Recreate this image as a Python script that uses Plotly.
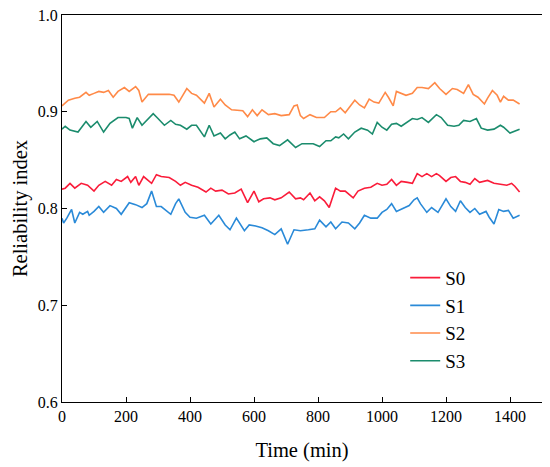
import plotly.graph_objects as go

# S0
t_s0 = [0, 10, 25, 40, 60, 80, 100, 115, 135, 155, 170, 185, 205, 215, 230, 240, 255, 280, 295, 310,
        335, 355, 370, 385, 405, 425, 450, 465, 480, 500, 520, 540, 560, 580, 600, 615, 630, 650, 665, 685,
        710, 730, 745, 755, 775, 790, 805, 820, 835, 855, 870, 885, 910, 925, 945, 965, 985, 1000, 1015, 1030,
        1045, 1060, 1080, 1095, 1110, 1125, 1140, 1155, 1170, 1180, 1200, 1215, 1230, 1245, 1260, 1275, 1290, 1305, 1330, 1350,
        1370, 1390, 1405, 1415, 1430]
r_s0 = [0.820, 0.821, 0.826, 0.821, 0.826, 0.824, 0.818, 0.824, 0.828, 0.824, 0.830, 0.828, 0.833, 0.827, 0.833, 0.824, 0.833, 0.826, 0.835, 0.833,
        0.832, 0.828, 0.824, 0.827, 0.824, 0.822, 0.817, 0.821, 0.818, 0.819, 0.815, 0.816, 0.820, 0.806, 0.818, 0.807, 0.810, 0.811, 0.809, 0.811,
        0.817, 0.810, 0.811, 0.809, 0.816, 0.808, 0.812, 0.808, 0.801, 0.821, 0.818, 0.818, 0.811, 0.818, 0.821, 0.822, 0.826, 0.824, 0.825, 0.830,
        0.824, 0.828, 0.827, 0.826, 0.836, 0.833, 0.836, 0.833, 0.836, 0.834, 0.828, 0.832, 0.833, 0.828, 0.827, 0.825, 0.831, 0.827, 0.829, 0.826,
        0.825, 0.824, 0.826, 0.823, 0.817]

# S1
t_s1 = [0, 5, 15, 30, 40, 55, 65, 80, 85, 100, 115, 130, 150, 170, 185, 210, 230, 250, 265, 280,
        295, 310, 340, 355, 365, 385, 400, 420, 445, 465, 490, 510, 525, 545, 570, 585, 605, 625, 645, 665,
        685, 705, 725, 745, 770, 790, 805, 825, 840, 855, 875, 895, 915, 930, 945, 965, 985, 1000, 1015, 1030,
        1045, 1060, 1085, 1100, 1110, 1120, 1140, 1155, 1175, 1200, 1215, 1230, 1245, 1260, 1275, 1290, 1305, 1325, 1335, 1350,
        1365, 1380, 1395, 1410, 1430]
r_s1 = [0.790, 0.785, 0.790, 0.799, 0.785, 0.796, 0.794, 0.797, 0.793, 0.797, 0.802, 0.796, 0.803, 0.800, 0.794, 0.806, 0.804, 0.801, 0.805, 0.818,
        0.802, 0.802, 0.794, 0.805, 0.810, 0.796, 0.791, 0.790, 0.793, 0.784, 0.793, 0.783, 0.778, 0.790, 0.777, 0.783, 0.782, 0.780, 0.777, 0.773,
        0.779, 0.763, 0.778, 0.777, 0.778, 0.779, 0.788, 0.781, 0.786, 0.779, 0.786, 0.785, 0.779, 0.785, 0.793, 0.790, 0.790, 0.796, 0.799, 0.805,
        0.797, 0.799, 0.803, 0.809, 0.811, 0.805, 0.796, 0.801, 0.796, 0.810, 0.802, 0.797, 0.808, 0.801, 0.796, 0.800, 0.794, 0.797, 0.791, 0.784,
        0.799, 0.797, 0.798, 0.790, 0.793]

# S2
t_s2 = [0, 20, 40, 55, 75, 85, 100, 115, 130, 145, 160, 175, 195, 210, 230, 240, 250, 270, 290, 310,
        335, 350, 365, 390, 405, 420, 445, 460, 475, 495, 510, 530, 550, 565, 580, 595, 610, 625, 645, 665,
        685, 710, 725, 735, 745, 755, 775, 795, 820, 840, 855, 870, 885, 900, 915, 930, 945, 960, 975, 990,
        1010, 1020, 1035, 1045, 1060, 1075, 1095, 1110, 1125, 1145, 1165, 1180, 1200, 1220, 1235, 1255, 1270, 1285, 1300, 1320,
        1330, 1345, 1360, 1370, 1380, 1395, 1410, 1430]
r_s2 = [0.906, 0.912, 0.914, 0.915, 0.920, 0.917, 0.919, 0.921, 0.920, 0.922, 0.915, 0.921, 0.925, 0.921, 0.926, 0.922, 0.910, 0.918, 0.918, 0.918,
        0.918, 0.917, 0.910, 0.924, 0.919, 0.917, 0.909, 0.919, 0.905, 0.913, 0.907, 0.902, 0.901, 0.901, 0.895, 0.902, 0.896, 0.902, 0.897, 0.898,
        0.896, 0.897, 0.906, 0.907, 0.896, 0.893, 0.897, 0.894, 0.894, 0.900, 0.900, 0.904, 0.899, 0.905, 0.912, 0.907, 0.904, 0.913, 0.910, 0.909,
        0.920, 0.915, 0.906, 0.921, 0.919, 0.917, 0.919, 0.925, 0.925, 0.924, 0.930, 0.924, 0.918, 0.924, 0.923, 0.919, 0.928, 0.918, 0.915, 0.908,
        0.914, 0.922, 0.917, 0.910, 0.916, 0.912, 0.912, 0.908]

# S3
t_s3 = [0, 10, 25, 50, 75, 90, 110, 130, 150, 175, 200, 210, 220, 235, 250, 265, 285, 300, 320, 340,
        355, 370, 390, 405, 420, 445, 460, 475, 495, 510, 525, 540, 555, 575, 600, 620, 640, 660, 680, 705,
        730, 750, 770, 785, 805, 825, 840, 855, 865, 880, 895, 915, 935, 955, 970, 985, 1000, 1015, 1030, 1045,
        1060, 1080, 1095, 1110, 1125, 1145, 1170, 1185, 1205, 1225, 1240, 1255, 1275, 1295, 1310, 1330, 1350, 1370, 1380, 1400,
        1415, 1430]
r_s3 = [0.882, 0.885, 0.881, 0.879, 0.890, 0.884, 0.890, 0.879, 0.888, 0.894, 0.894, 0.893, 0.883, 0.894, 0.886, 0.891, 0.898, 0.893, 0.886, 0.891,
        0.887, 0.886, 0.882, 0.886, 0.886, 0.874, 0.886, 0.875, 0.878, 0.872, 0.876, 0.879, 0.872, 0.875, 0.869, 0.872, 0.873, 0.867, 0.865, 0.871,
        0.863, 0.867, 0.867, 0.867, 0.864, 0.870, 0.870, 0.874, 0.873, 0.877, 0.872, 0.879, 0.883, 0.881, 0.877, 0.889, 0.884, 0.881, 0.887, 0.888,
        0.885, 0.890, 0.893, 0.892, 0.894, 0.889, 0.897, 0.894, 0.886, 0.885, 0.886, 0.891, 0.890, 0.893, 0.883, 0.881, 0.882, 0.886, 0.884, 0.878,
        0.880, 0.882]

series = [
    ("S0", t_s0, r_s0, "#fa1c3a"),
    ("S1", t_s1, r_s1, "#2a8ad8"),
    ("S2", t_s2, r_s2, "#ff8a48"),
    ("S3", t_s3, r_s3, "#1b8c6d"),
]

fig = go.Figure()
for name, t, r, color in series:
    fig.add_trace(go.Scatter(x=t, y=r, mode="lines", name=name,
                             line=dict(color=color, width=1.6)))

# page body keeps its default 8px margin, so the figure is a bit smaller than the window
fig.update_layout(
    width=542, height=459,
    margin=dict(l=54, r=8, t=7, b=65, autoexpand=False),
    plot_bgcolor="white", paper_bgcolor="white",
    font=dict(family="Liberation Serif", size=16, color="black"),
    showlegend=True,
    legend=dict(x=0.715, y=0.37, xanchor="left", yanchor="top",
                bgcolor="rgba(0,0,0,0)", font=dict(size=19),
                tracegroupgap=0),
)
fig.update_xaxes(
    range=[0, 1500], tickmode="array", tickvals=list(range(0, 1401, 200)),
    showline=True, linecolor="black", linewidth=1.3, mirror=True,
    ticks="inside", ticklen=5, tickcolor="black", showgrid=False, zeroline=False,
    ticklabeloverflow="allow", automargin=False,
    title=dict(text="Time (min)", font=dict(size=20.5), standoff=18),
)
fig.update_yaxes(
    range=[0.6, 1.0], tickmode="array", tickvals=[0.6, 0.7, 0.8, 0.9, 1.0],
    ticktext=["0.6", "0.7", "0.8", "0.9", "1.0"],
    showline=True, linecolor="black", linewidth=1.3, mirror=True,
    ticks="inside", ticklen=5, tickcolor="black", showgrid=False, zeroline=False,
    ticklabeloverflow="allow", automargin=False,
    title=dict(text="Reliability index", font=dict(size=20.5), standoff=4),
)

fig.write_html("out.html")
